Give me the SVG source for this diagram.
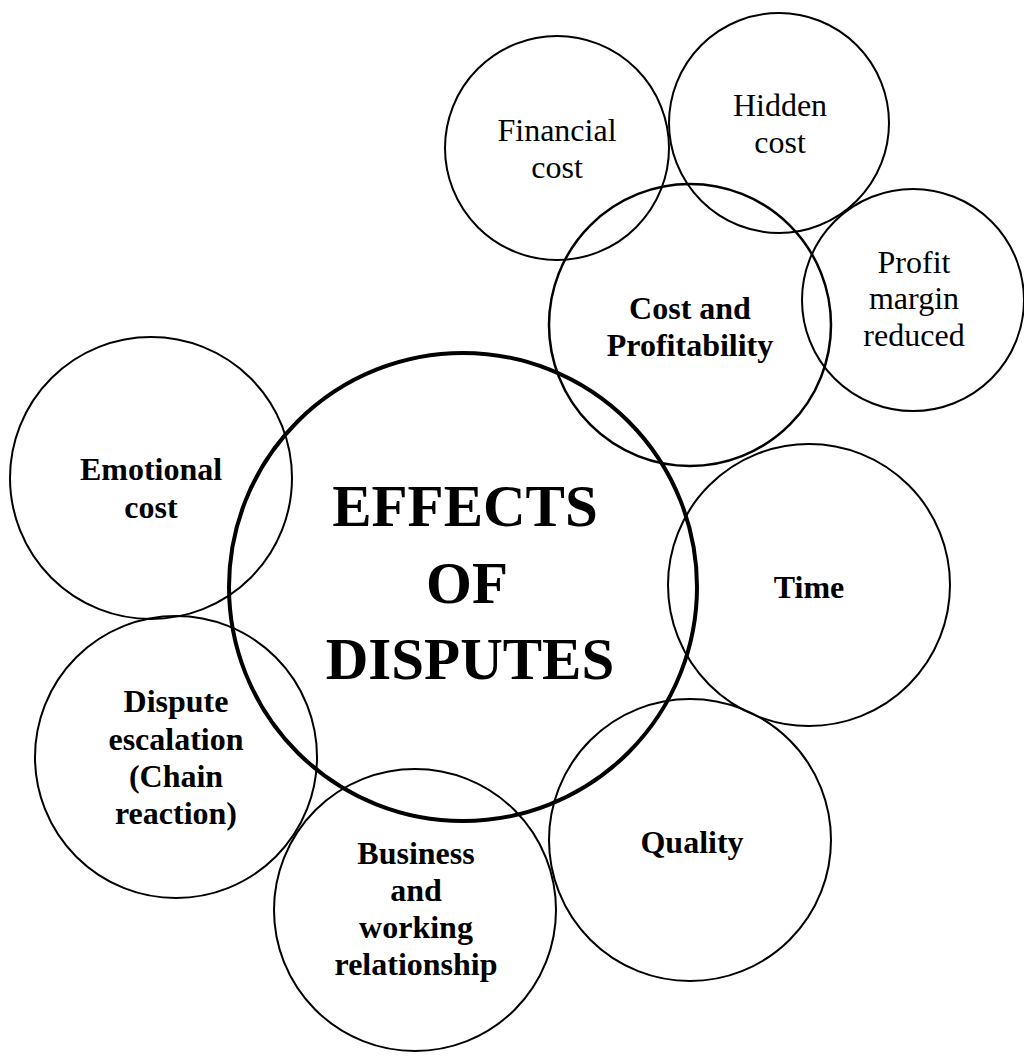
<svg xmlns="http://www.w3.org/2000/svg" width="1024" height="1057" viewBox="0 0 1024 1057">
<style>
circle{fill:none;stroke:#000;stroke-width:2}
.main circle{stroke-width:4}
.mid circle{stroke-width:2.5}
text{font-family:"Liberation Serif","Times New Roman",serif;fill:#000;text-anchor:middle;font-size:32px}
.b{font-weight:bold}
.big{font-weight:bold;font-size:59px}
</style>
<rect width="1024" height="1057" fill="#fff"/>
<g id="financial-cost"><circle cx="557" cy="148" r="112"/><text x="557" y="141">Financial</text><text x="557" y="178">cost</text></g>
<g id="hidden-cost"><circle cx="779" cy="123" r="110"/><text x="780" y="116">Hidden</text><text x="780" y="153">cost</text></g>
<g id="profit-margin"><circle cx="913" cy="300" r="111"/><text x="914" y="273">Profit</text><text x="914" y="309">margin</text><text x="914" y="346">reduced</text></g>
<g id="cost-profitability" class="mid"><circle cx="690" cy="325" r="141"/><text class="b" x="690" y="319">Cost and</text><text class="b" x="690" y="356">Profitability</text></g>
<g id="emotional-cost"><circle cx="151" cy="478" r="141"/><text class="b" x="151" y="480">Emotional</text><text class="b" x="151" y="518">cost</text></g>
<g id="dispute-escalation"><circle cx="176" cy="757" r="141"/><text class="b" x="176" y="712">Dispute</text><text class="b" x="176" y="750">escalation</text><text class="b" x="176" y="787">(Chain</text><text class="b" x="176" y="824">reaction)</text></g>
<g id="business"><circle cx="415" cy="910" r="141"/><text class="b" x="416" y="864">Business</text><text class="b" x="416" y="901">and</text><text class="b" x="416" y="938">working</text><text class="b" x="416" y="975">relationship</text></g>
<g id="quality"><circle cx="690" cy="840" r="141"/><text class="b" x="692" y="853">Quality</text></g>
<g id="time"><circle cx="809" cy="585" r="141"/><text class="b" x="809" y="598">Time</text></g>
<g id="effects" class="main"><circle cx="463" cy="587" r="234"/><text class="big" x="465" y="526">EFFECTS</text><text class="big" x="467" y="603">OF</text><text class="big" x="470" y="679">DISPUTES</text></g>
<g id="connectors"/>
</svg>
